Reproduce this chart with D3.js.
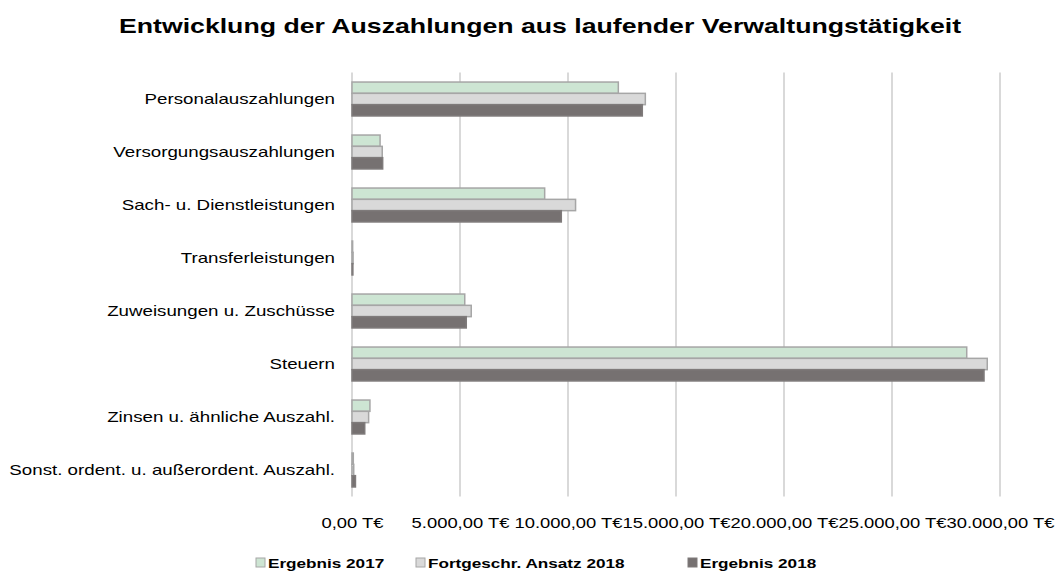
<!DOCTYPE html>
<html>
<head>
<meta charset="utf-8">
<script src="https://cdn.jsdelivr.net/npm/d3@7/dist/d3.min.js"></script>
<style>
  html, body { margin: 0; padding: 0; background: #ffffff; }
  svg { display: block; font-family: "Liberation Sans", Arial, sans-serif; }
</style>
</head>
<body>
<svg id="chart" width="1057" height="573"></svg>
<script>
// ---- data ----
const categories = [
  "Personalauszahlungen",
  "Versorgungsauszahlungen",
  "Sach- u. Dienstleistungen",
  "Transferleistungen",
  "Zuweisungen u. Zuschüsse",
  "Steuern",
  "Zinsen u. ähnliche Auszahl.",
  "Sonst. ordent. u. außerordent. Auszahl."
];
const seriesNames = ["Ergebnis 2017", "Fortgeschr. Ansatz 2018", "Ergebnis 2018"];
const ergebnis2017 = [12330, 1300, 8920, 30, 5220, 28460, 830, 60];
const ansatz2018   = [13580, 1400, 10350, 50, 5520, 29410, 770, 80];
const ergebnis2018 = [13440, 1420, 9690, 40, 5290, 29260, 590, 160];
const tickValues = [0, 5000, 10000, 15000, 20000, 25000, 30000];
const titleText = "Entwicklung der Auszahlungen aus laufender Verwaltungstätigkeit";

// ---- styles ----
const fills   = ["#cde5d3", "#d9d9d9", "#767171"];
const strokes = ["#a6a6a6", "#a6a6a6", "#7f7b7b"];
const K = 1.27; // horizontal text stretch of the reference

const svg = d3.select("#chart");
const margin = { left: 352, right: 57, top: 72.5, bottom: 76.5 };
const W = 1057, H = 573;
const innerW = W - margin.left - margin.right;
const innerH = H - margin.top - margin.bottom;

const x = d3.scaleLinear().domain([0, 30000]).range([margin.left, margin.left + innerW]);
const y = d3.scaleBand().domain(categories).range([margin.top, margin.top + innerH])
  .paddingInner(0.36).paddingOuter(0.18);
const ySub = d3.scaleBand().domain(d3.range(3)).range([0, y.bandwidth()]);

// title
svg.append("text")
  .attr("transform", `translate(540,33) scale(${K},1)`)
  .attr("text-anchor", "middle")
  .attr("font-size", 21)
  .attr("font-weight", "bold")
  .attr("fill", "#000")
  .text(titleText);

// gridlines
svg.append("g").selectAll("line").data(tickValues).join("line")
  .attr("x1", d => x(d)).attr("x2", d => x(d))
  .attr("y1", margin.top).attr("y2", margin.top + innerH)
  .attr("stroke", "#d9d9d9").attr("stroke-width", 2);

// bars
const series = [ergebnis2017, ansatz2018, ergebnis2018];
const rows = categories.map((c, i) => ({ c, vals: series.map(s => s[i]) }));
const g = svg.append("g");
rows.forEach(r => {
  g.append("g").attr("transform", `translate(0,${y(r.c)})`)
    .selectAll("rect").data(r.vals.map((v, j) => ({ v, j }))).join("rect")
    .attr("x", x(0))
    .attr("y", d => ySub(d.j))
    .attr("width", d => Math.max(0.5, x(d.v) - x(0)))
    .attr("height", ySub.bandwidth())
    .attr("fill", d => fills[d.j])
    .attr("stroke", d => strokes[d.j])
    .attr("stroke-width", 1.5);
});

// x axis labels
const loc = d3.formatLocale({ decimal: ",", thousands: ".", grouping: [3], currency: ["", " T€"] });
const fmt = loc.format(",.2f");
const xAxis = d3.axisBottom(x).tickValues(tickValues).tickSize(0).tickPadding(0)
  .tickFormat(d => fmt(d) + " T€");
const xg = svg.append("g").attr("transform", `translate(0,${margin.top + innerH + 31})`).call(xAxis);
xg.select(".domain").remove();
xg.selectAll("text").attr("font-size", 14.5).attr("fill", "#000")
  .attr("font-family", "Liberation Sans, Arial, sans-serif")
  .attr("dy", 0).attr("y", 0)
  .attr("transform", `scale(${K},1)`);

// y axis labels
const yAxis = d3.axisLeft(y).tickSize(0).tickPadding(0);
const yg = svg.append("g").attr("transform", `translate(${margin.left - 17},0)`).call(yAxis);
yg.select(".domain").remove();
yg.selectAll("text").attr("font-size", 14.75).attr("fill", "#000")
  .attr("font-family", "Liberation Sans, Arial, sans-serif")
  .attr("x", 0).attr("dy", "0.35em")
  .attr("transform", `scale(${K},1)`);

// legend
const legendX = [256, 416, 688];
const lg = svg.append("g");
seriesNames.forEach((n, i) => {
  lg.append("rect").attr("x", legendX[i]).attr("y", 558).attr("width", 9).attr("height", 9)
    .attr("fill", fills[i]).attr("stroke", strokes[i]).attr("stroke-width", 1);
  lg.append("text")
    .attr("transform", `translate(${legendX[i] + 12},568) scale(${K},1)`)
    .attr("font-size", 13.5).attr("font-weight", "bold").attr("fill", "#000")
    .text(n);
});
</script>
</body>
</html>
